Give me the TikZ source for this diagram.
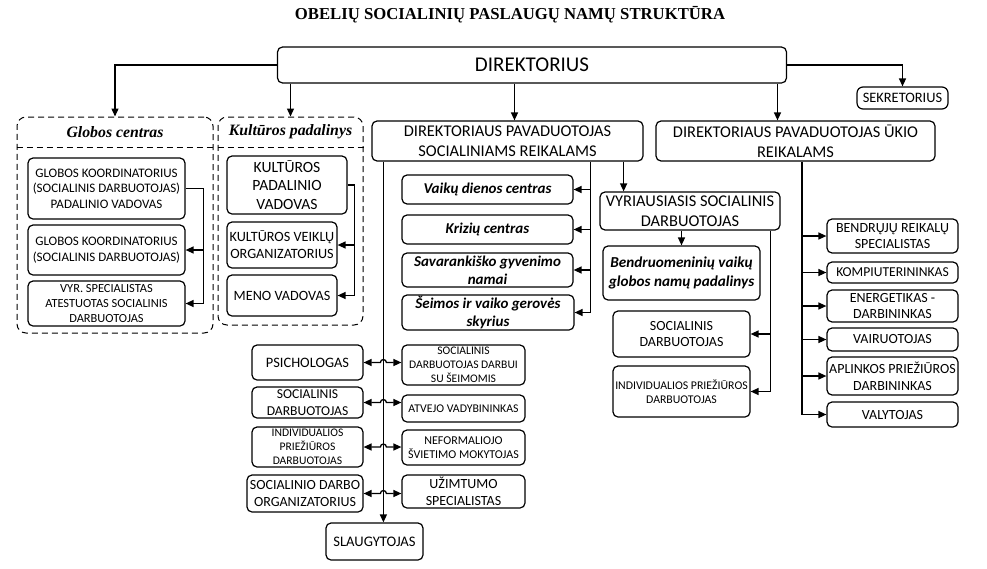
\documentclass[tikz,border=0pt]{standalone}
\usepackage{fontspec}
\setmainfont{Carlito}
\newfontfamily\serifbf{Liberation Serif}
\usetikzlibrary{calc, positioning}
\usetikzlibrary{arrows.meta}
\tikzset{
  x=1pt, y=-1pt,
  % Set arrowhead
  >={Triangle[length=8pt, width=7pt]},
  % Font size with line spacing
  fs/.style={font=\fontsize{#1}{\fpeval{1.2*#1}}\selectfont},
  bifs/.style={font=\fontsize{#1}{\fpeval{1.2*#1}}\selectfont\bfseries\itshape},
  % General box
  box/.style={draw, fill=white, rounded corners=5pt, align=center,
    inner sep=1pt, line width=1.2pt},
  % Unit box
  ubox/.style={box, bifs=#1},
  % Dashed group
  grp/.style={draw, rounded corners=9pt, line width=1pt,
    dash pattern=on 6pt off 4pt},
  % Group header
  ghead/.style={font=\fontsize{15.8}{18}\serifbf\bfseries\itshape},
  % Connectors
  link/.style={line width=1.3pt},
}
\begin{document}
\begin{tikzpicture}
  \useasboundingbox (0,0) rectangle (987,568);
  \node[font=\fontsize{16.7}{20}\serifbf\bfseries] (title) at (510,15)
    {OBELIŲ SOCIALINIŲ PASLAUGŲ NAMŲ STRUKTŪRA};

  % top level
  \node[box, fs=21, minimum width=509, minimum height=36] (dir) at (532,65) {DIREKTORIUS};
  \node[box, fs=14.4, minimum width=91, minimum height=22, rounded corners=6pt] (sek) at (902.5,98) {SEKRETORIUS};
  \node[box, fs=16.4, minimum width=271, minimum height=40] (dps) at (507.5,141)
    {DIREKTORIAUS PAVADUOTOJAS\\SOCIALINIAMS REIKALAMS};
  \node[box, fs=16.4, minimum width=279, minimum height=40] (dpu) at (795.5,141)
    {DIREKTORIAUS PAVADUOTOJAS ŪKIO\\REIKALAMS};

  % groups
  \node[grp, minimum width=196, minimum height=216] (globos) at (115,225) {};
  \node[ghead] (globosT) at (115,132) {Globos centras};
  \draw[grp] (globos.west |- 0,147) -- (globos.east |- 0,147);
  \node[grp, minimum width=145, minimum height=208] (kult) at (290.5,221) {};
  \node[ghead] (kultT) at (290.5,132) {Kultūros padalinys};
  \draw[grp] (kult.west |- 0,147) -- (kult.east |- 0,147);

  \node[box, fs=13, minimum width=157, minimum height=61] (gk1) at (106.5,188.5)
    {GLOBOS KOORDINATORIUS\\(SOCIALINIS DARBUOTOJAS)\\PADALINIO VADOVAS};
  \node[box, fs=13, minimum width=157, minimum height=50] (gk2) at (106.5,250)
    {GLOBOS KOORDINATORIUS\\(SOCIALINIS DARBUOTOJAS)};
  \node[box, fs=12.4, minimum width=157, minimum height=45] (vyrs) at (106.5,303.5)
    {VYR. SPECIALISTAS\\ATESTUOTAS SOCIALINIS\\DARBUOTOJAS};
  \node[box, fs=15.6, minimum width=120, minimum height=58] (kp) at (287,185)
    {KULTŪROS\\PADALINIO\\VADOVAS};
  \node[box, fs=14.2, minimum width=110, minimum height=46, inner sep=0pt] (kvo) at (282,245)
    {KULTŪROS VEIKLŲ\\ORGANIZATORIUS};
  \node[box, fs=14.2, minimum width=110, minimum height=41] (meno) at (282,295.5) {MENO VADOVAS};

  % social units
  \node[ubox=15, minimum width=171, minimum height=29] (vdc) at (487.5,189.5) {Vaikų dienos centras};
  \node[ubox=15, minimum width=171, minimum height=29] (kriz) at (487.5,229.5) {Krizių centras};
  \node[ubox=15, minimum width=171, minimum height=34, inner sep=0pt] (sav) at (487.5,270)
    {Savarankiško gyvenimo\\namai};
  \node[ubox=15, minimum width=172, minimum height=35, inner sep=0pt] (seim) at (488,312.5)
    {Šeimos ir vaiko gerovės\\skyrius};
  \node[box, fs=16.4, minimum width=180, minimum height=38] (vyr) at (690,211)
    {VYRIAUSIASIS SOCIALINIS\\DARBUOTOJAS};
  \node[ubox=15.2, minimum width=157, minimum height=54] (bend) at (681.5,273)
    {Bendruomeninių vaikų\\globos namų padalinys};
  \node[box, fs=14, minimum width=137, minimum height=46] (socR) at (681.5,334)
    {SOCIALINIS\\DARBUOTOJAS};
  \node[box, fs=11.8, minimum width=137, minimum height=51, inner sep=0pt] (indR) at (681.5,391.5)
    {INDIVIDUALIOS PRIEŽIŪROS\\DARBUOTOJAS};

  % staff
  \node[box, fs=14.4, minimum width=111, minimum height=35] (psy) at (307.5,362.5) {PSICHOLOGAS};
  \node[box, fs=13.6, minimum width=111, minimum height=31] (socL) at (307.5,402.5)
    {SOCIALINIS\\DARBUOTOJAS};
  \node[box, fs=11.6, minimum width=111, minimum height=40] (indL) at (307.5,447)
    {INDIVIDUALIOS\\PRIEŽIŪROS\\DARBUOTOJAS};
  \node[box, fs=14, minimum width=116, minimum height=37] (sdo) at (305,493.5)
    {SOCIALINIO DARBO\\ORGANIZATORIUS};
  \node[box, fs=11.6, minimum width=123, minimum height=40] (sds) at (463.5,365)
    {SOCIALINIS\\DARBUOTOJAS DARBUI\\SU ŠEIMOMIS};
  \node[box, fs=11.8, minimum width=123, minimum height=27] (atv) at (463.5,408.5) {ATVEJO VADYBININKAS};
  \node[box, fs=12, minimum width=123, minimum height=35] (nef) at (463.5,447.5)
    {NEFORMALIOJO\\ŠVIETIMO MOKYTOJAS};
  \node[box, fs=14, minimum width=123, minimum height=33] (uzim) at (463.5,491.5)
    {UŽIMTUMO\\SPECIALISTAS};
  \node[box, fs=14.6, minimum width=97, minimum height=37] (slaug) at (374.5,541.5) {SLAUGYTOJAS};

  % household staff
  \node[box, fs=14, minimum width=131, minimum height=34] (bendr) at (892.5,236)
    {BENDRŲJŲ REIKALŲ\\SPECIALISTAS};
  \node[box, fs=13.6, minimum width=131, minimum height=21] (komp) at (892.5,272.5) {KOMPIUTERININKAS};
  \node[box, fs=14, minimum width=131, minimum height=32] (energ) at (892.5,306)
    {ENERGETIKAS -\\DARBININKAS};
  \node[box, fs=14, minimum width=131, minimum height=23] (vair) at (892.5,339.5) {VAIRUOTOJAS};
  \node[box, fs=14, minimum width=131, minimum height=38, inner sep=0pt] (apl) at (892.5,376)
    {APLINKOS PRIEŽIŪROS\\DARBININKAS};
  \node[box, fs=14, minimum width=131, minimum height=25] (valyt) at (892.5,414.5) {VALYTOJAS};

  % director links
  \draw[link, ->] (dir.west) -| (globos.north);
  \draw[link, ->] (dir.south -| kult.north) -- (kult.north);
  \draw[link, ->] ([xshift=7pt]dir.south -| dps.north) -- ([xshift=7pt]dps.north);
  \draw[link, ->] ([xshift=-18pt]dir.south -| dpu.north) -- ([xshift=-18pt]dpu.north);
  \draw[link, ->] (dir.east) -| (sek.north);

  % inside groups
  \coordinate (gj) at ([xshift=18pt]gk1.east);
  \draw[link] (gk1.east) -- (gj) -- (gj |- vyrs.east);
  \draw[link, ->] (gj |- gk2.east) -- (gk2.east);
  \draw[link, ->] (gj |- vyrs.east) -- (vyrs.east);
  \coordinate (kj) at ([xshift=7pt]kp.east);
  \draw[link] (kp.east) -- (kj) -- (kj |- meno.east);
  \draw[link, ->] (kj |- kvo.east) -- (kvo.east);
  \draw[link, ->] (kj |- meno.east) -- (meno.east);

  % social deputy links
  \coordinate (sp) at ([xshift=12pt]dps.south west);
  \coordinate (sr) at ([xshift=-53pt]dps.south east);
  \coordinate (sv) at ([xshift=-20pt]dps.south east);
  \draw[link, ->] (sp) -- (sp |- slaug.north);
  \draw[link] (sr) -- (sr |- seim.east);
  \foreach \u in {vdc, kriz, sav, seim}
    \draw[link, ->] (sr |- \u.east) -- (\u.east);
  \draw[link, ->] (sv) -- (sv |- vyr.north);
  \foreach \l/\r in {psy/sds, socL/atv, indL/nef, sdo/uzim}
    \draw[link, <->] (\l.east) -- ($(\l.east -| sp)+(-3,0)$)
      arc[start angle=180, end angle=0, radius=3pt] -- (\l.east -| \r.west);

  % chief social worker links
  \draw[link, ->] (vyr.south -| bend.north) -- (bend.north);
  \coordinate (vr) at ([xshift=-10pt]vyr.south east);
  \draw[link] (vr) -- (vr |- indR.east);
  \draw[link, ->] (vr |- socR.east) -- (socR.east);
  \draw[link, ->] (vr |- indR.east) -- (indR.east);

  % household deputy links
  \coordinate (ur) at ([xshift=6.5pt]dpu.south);
  \draw[link] (ur) -- (ur |- valyt.west);
  \foreach \u in {bendr, komp, energ, vair, apl, valyt}
    \draw[link, ->] (ur |- \u.west) -- (\u.west);
\end{tikzpicture}
\end{document}
